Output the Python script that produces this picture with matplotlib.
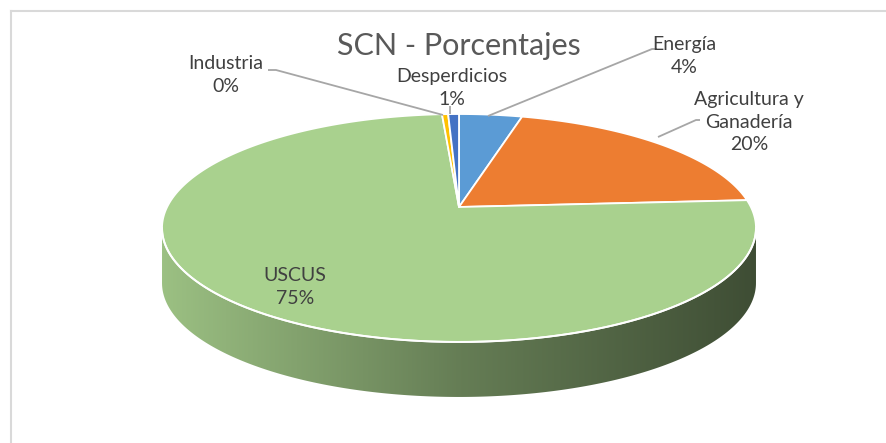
import numpy as np
import matplotlib
matplotlib.use("Agg")
import matplotlib.pyplot as plt
from matplotlib.patches import Polygon

# ---------------- data ----------------
categories = ["Energía", "Agricultura y\nGanadería", "USCUS", "Industria", "Desperdicios"]
values = [4.1, 19.9, 74.9, 0.4, 0.7]
colors = ["#5B9BD5", "#ED7D31", "#A9D18E", "#FFC000", "#4472C4"]
title = "SCN - Porcentajes"

# ---------------- layout ----------------
W, H = 886, 443
fig = plt.figure(figsize=(W / 100, H / 100), dpi=100)
ax = fig.add_axes([0, 0, 1, 1])
ax.set_xlim(0, W)
ax.set_ylim(H, 0)
ax.axis("off")

CX, CY = 459, 207          # projected centre of the pie
A, B, K = 291.9, 110.1, 0.1842   # perspective ellipse parameters
DEPTH = 55
FONT = "Lato"


def proj(phi, dy=0.0):
    X = np.sin(phi)
    Z = np.cos(phi)
    s = 1 + K * Z
    return CX + A * X / s, CY - B * Z / s + dy


total = float(np.sum(values))
fracs = np.array(values) / total
bounds = np.concatenate([[0], np.cumsum(fracs)]) * 2 * np.pi

# ---------------- side (cylinder wall) ----------------
phi_r = np.arccos(-K)
phi_l = 2 * np.pi - phi_r
x_left, _ = proj(phi_l)
x_right, _ = proj(phi_r)


def shade(t):
    return np.interp(t, [0, 0.5, 1.0], [0.92, 0.60, 0.37])


for i, (a0, a1) in enumerate(zip(bounds[:-1], bounds[1:])):
    lo, hi = max(a0, phi_r), min(a1, phi_l)
    if hi <= lo:
        continue
    ph = np.linspace(lo, hi, 200)
    xt, yt = proj(ph)
    xb, yb = proj(ph[::-1], DEPTH)
    poly = Polygon(np.column_stack([np.concatenate([xt, xb]), np.concatenate([yt, yb])]),
                   closed=True, facecolor="none", edgecolor="none")
    ax.add_patch(poly)
    base = np.array(matplotlib.colors.to_rgb(colors[i]))
    xs = np.linspace(x_left, x_right, 400)
    t = (xs - x_left) / (x_right - x_left)
    img = np.clip(base[None, :] * shade(t)[:, None], 0, 1)[None, :, :]
    im = ax.imshow(img, extent=[x_left, x_right, 420, 180], aspect="auto",
                   interpolation="bilinear", zorder=1)
    im.set_clip_path(poly)

# ---------------- top face ----------------
for i, (a0, a1) in enumerate(zip(bounds[:-1], bounds[1:])):
    ph = np.linspace(a0, a1, max(int((a1 - a0) * 80), 4))
    x, y = proj(ph)
    pts = np.column_stack([np.concatenate([[CX], x]), np.concatenate([[CY], y])])
    ax.add_patch(Polygon(pts, closed=True, facecolor=colors[i], edgecolor="white",
                         linewidth=1.3, joinstyle="round", zorder=2))

# rim highlight on the front edge
ph = np.linspace(phi_r, phi_l, 300)
xr, yr = proj(ph)
ax.plot(xr, yr, color="white", lw=1.4, zorder=3)

# ---------------- title ----------------
ax.text(459, 46, title, ha="center", va="center", fontsize=22,
        color="#595959", family=FONT)

# ---------------- labels ----------------
lab_color = "#404040"
line_color = "#A6A6A6"
pct = [f"{round(v / total * 100):.0f}%" for v in values]

label_pos = [(684, 56), (749, 122), (295, 287), (226, 75), (452, 88)]
for i, (lx, ly) in enumerate(label_pos):
    ax.text(lx, ly, categories[i] + "\n" + pct[i], ha="center", va="center",
            fontsize=14, color=lab_color, family=FONT, linespacing=1.4, zorder=5)

leaders = [
    [(657, 49), (652, 49), (488, 116)],
    [(700, 120), (696, 120), (658, 137)],
    [(268, 70), (276, 70), (443, 115)],
    [(450, 106), (450, 114)],
]
for pts in leaders:
    xs, ys = zip(*pts)
    ax.plot(xs, ys, color=line_color, lw=1.3, zorder=4, solid_capstyle="butt")

# chart area border (top and left visible)
ax.plot([11, W], [11, 11], color="#D9D9D9", lw=1.5)
ax.plot([11, 11], [11, H], color="#D9D9D9", lw=1.5)

fig.savefig("out.png", dpi=100, facecolor="white")
